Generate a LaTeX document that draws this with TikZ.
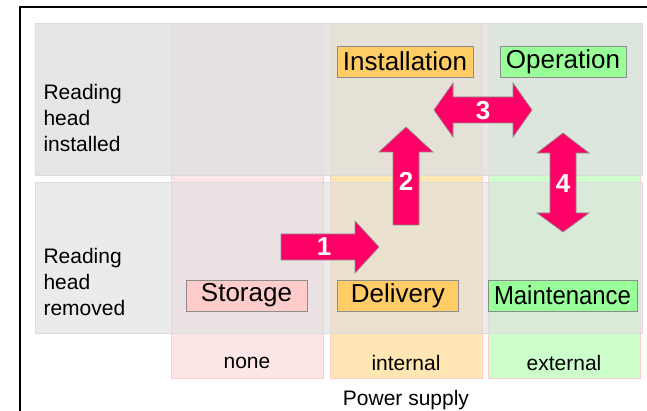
\documentclass[tikz,border=0pt]{standalone}
\usepackage{fontspec}
\setmainfont{Liberation Sans}
\usetikzlibrary{positioning}
\definecolor{arrowred}{HTML}{FF0066}
\definecolor{stpink}{HTML}{FFCCCC}
\definecolor{inorange}{HTML}{FFCC66}
\definecolor{exgreen}{HTML}{99FF99}
\tikzset{phase/.style={draw=black!45,inner xsep=6pt,minimum width=121pt,minimum height=31pt,font=\fontsize{26}{30}\selectfont},
         rowlabel/.style={anchor=west,align=left,font=\fontsize{21}{26}\selectfont},
         collabel/.style={font=\fontsize{21}{25}\selectfont},
         band/.style={draw=black!14,fill=black!12,fill opacity=#1},
         column/.style={draw=stpink,fill=#1!50},
         bigarrow/.style={draw=black!45,fill=arrowred,line width=0.6pt},
         num/.style={text=white,font=\fontsize{26}{30}\selectfont\bfseries}
}

\begin{document}
\begin{tikzpicture}[x=1pt,y=-1pt]
\useasboundingbox (0,0) rectangle (647,411);

% power supply columns
\draw[column=stpink] (171,23) rectangle (323,378);
\draw[column=inorange] (330,23) rectangle (482,378);
\draw[column=exgreen] (488,23) rectangle (640,378);

% reading head bands
\draw[band=0.8] (35,23) rectangle (642,175);
\draw[band=0.65] (35,182) rectangle (642,333);

% frame
\draw[line width=2pt] (20,411) -- (20,7) -- (647,7);

\node[rowlabel] (installed) at (40,118) {Reading\\head\\installed};
\node[rowlabel] (removed) at (40,282) {Reading\\head\\removed};

\node[phase,fill=inorange] (install) at (405,61.5) {Installation};
\node[phase,fill=exgreen] (operation) at (563,61.5) {Operation};
\node[phase,fill=stpink] (storage) at (246.5,295.5) {Storage};
\node[phase,fill=inorange,right=30pt of storage] (delivery) {Delivery};
\node[phase,fill=exgreen] (maint) at (562.5,295.5) {\scalebox{0.92}[1]{Maintenance}};

\node[collabel] (none) at (247,363) {none};
\node[collabel] (internal) at (406,363) {internal};
\node[collabel] (external) at (564,363) {external};
\node[collabel] (power) at (406,400) {Power supply};

% transitions
\draw[bigarrow] (281,234) -- (355,234) -- (355,221) -- (379,247) -- (355,273) -- (355,260) -- (281,260) -- cycle;
\node[num] (n1) at (324,247) {1};
\draw[bigarrow] (393,225) -- (393,152) -- (379,152) -- (406,127) -- (433,152) -- (419,152) -- (419,225) -- cycle;
\node[num] (n2) at (406,181) {2};
\draw[bigarrow] (434,110) -- (453,83) -- (453,97) -- (513,97) -- (513,83) -- (532,110) -- (513,137) -- (513,123) -- (453,123) -- (453,137) -- cycle;
\node[num] (n3) at (483,111) {3};
\draw[bigarrow] (563,133) -- (589,153) -- (576,153) -- (576,213) -- (589,213) -- (563,232) -- (537,213) -- (550,213) -- (550,153) -- (537,153) -- cycle;
\node[num] (n4) at (563,184) {4};

\end{tikzpicture}
\end{document}
